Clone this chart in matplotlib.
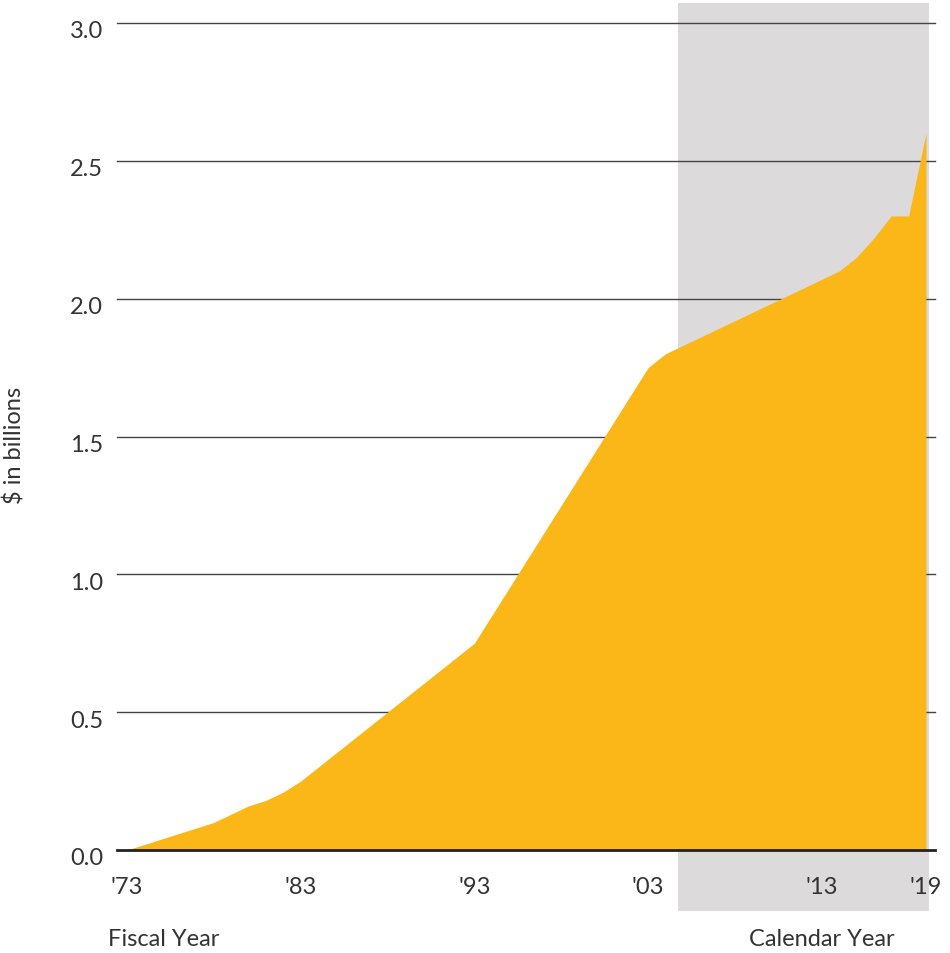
import matplotlib.pyplot as plt
from matplotlib.transforms import ScaledTranslation

years = [1973, 1978, 1980, 1981, 1982, 1983, 1993, 2003, 2004,
         2014, 2015, 2016, 2017, 2018, 2019]
billions = [0.0, 0.10, 0.16, 0.18, 0.21, 0.25, 0.75, 1.75, 1.80,
            2.10, 2.15, 2.22, 2.30, 2.30, 2.60]

tick_years = [1973, 1983, 1993, 2003, 2013, 2019]
tick_labels = ["'73", "'83", "'93", "'03", "'13", "'19"]
y_ticks = [0.0, 0.5, 1.0, 1.5, 2.0, 2.5, 3.0]

# calendar-year reporting period
calendar_start, calendar_end = 2004.7, 2019.15

plt.rcParams["font.family"] = ["Lato", "DejaVu Sans"]
text_color = "#333333"
fs = 17

fig = plt.figure(figsize=(9.5, 9.54), dpi=100)
W, H = 950, 954
ax = fig.add_axes([117 / W, 1 - 851 / H, (935 - 117) / W, (851 - 24) / H])

ax.set_xlim(1972.43, 2019.52)
ax.set_ylim(0, 3.0)

ax.axvspan(calendar_start, calendar_end, ymin=-61 / 827, ymax=847 / 827,
           color="#dcdadb", lw=0, clip_on=False, zorder=0)

for v in y_ticks[1:]:
    ax.axhline(v, color="#444444", lw=1.0, zorder=1, clip_on=False)

ax.fill_between(years, billions, 0, color="#fbb718", lw=0, zorder=2)
ax.axhline(0, color="#222222", lw=2.0, zorder=3, clip_on=False)

for s in ax.spines.values():
    s.set_visible(False)

ax.set_yticks(y_ticks)
ax.set_yticklabels([f"{v:.1f}" for v in y_ticks])
ax.set_xticks(tick_years)
ax.set_xticklabels(tick_labels)
ax.tick_params(axis="both", length=0, labelsize=fs, labelcolor=text_color)
ax.tick_params(axis="y", pad=10)
ax.tick_params(axis="x", pad=19)
for lab in ax.get_yticklabels():
    lab.set_transform(lab.get_transform() + ScaledTranslation(0, -0.06, fig.dpi_scale_trans))

fig.text(15 / W, 1 - 445 / H, r"\$ in billions", rotation=90, ha="center",
         va="center", fontsize=fs, color=text_color)
fig.text(108 / W, 1 - 940 / H, "Fiscal Year", ha="left", va="center",
         fontsize=fs, color=text_color)
fig.text(895 / W, 1 - 940 / H, "Calendar Year", ha="right", va="center",
         fontsize=fs, color=text_color)

fig.savefig("out.png", dpi=100)
